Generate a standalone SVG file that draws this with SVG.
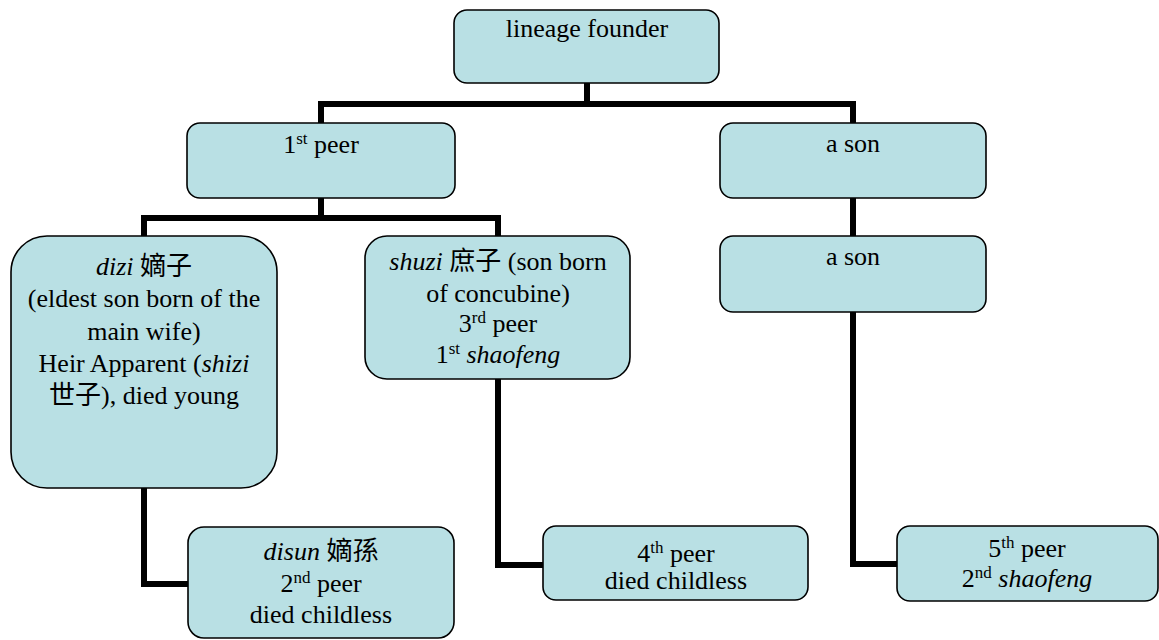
<svg xmlns="http://www.w3.org/2000/svg" width="1159" height="640" viewBox="0 0 1159 640">
  <style>
    .box { fill: #B9E0E4; stroke: #000; stroke-width: 1.6; }
    .lbl { font-size: 26px; fill: #000; text-anchor: middle; }
    .it { font-style: italic; }
    .sup { font-size: 17px; }
    .conn { fill: none; stroke: #000; stroke-width: 6; stroke-linejoin: miter; stroke-linecap: butt; }
  </style>

  <!-- connectors -->
  <g id="connectors">
    <path class="conn" d="M587 83 V104 M321 123 V104 H853 V123"/>
    <path class="conn" d="M321 198 V218 M144 236 V218 H498 V236"/>
    <path class="conn" d="M853 198 V236"/>
    <path class="conn" d="M853 312 V564 H897"/>
    <path class="conn" d="M144 488 V584 H188"/>
    <path class="conn" d="M498 379 V565 H543"/>
  </g>

  <g font-family="'Liberation Serif', 'DejaVu Serif', 'Noto Sans CJK SC', serif">
  <g id="founder">
    <rect class="box" x="454" y="10" width="265" height="73" rx="13"/>
    <text class="lbl" x="587" y="37">lineage founder</text>
  </g>

  <g id="peer1">
    <rect class="box" x="187" y="123" width="268" height="75" rx="13"/>
    <text class="lbl" x="321" y="153">1<tspan class="sup" baseline-shift="9">st</tspan> peer</text>
  </g>

  <g id="son1">
    <rect class="box" x="720" y="123" width="266" height="75" rx="13"/>
    <text class="lbl" x="853" y="152">a son</text>
  </g>

  <g id="son2">
    <rect class="box" x="720" y="236" width="266" height="76" rx="13"/>
    <text class="lbl" x="853" y="265">a son</text>
  </g>

  <g id="dizi">
    <rect class="box" x="11" y="236" width="266" height="252" rx="36"/>
    <text class="lbl" x="144" y="275"><tspan class="it">dizi</tspan> 嫡子</text>
    <text class="lbl" x="144" y="307">(eldest son born of the</text>
    <text class="lbl" x="144" y="340">main wife)</text>
    <text class="lbl" x="144" y="372">Heir Apparent (<tspan class="it">shizi</tspan></text>
    <text class="lbl" x="144" y="404">世子), died young</text>
  </g>

  <g id="shuzi">
    <rect class="box" x="365" y="236" width="265" height="143" rx="22"/>
    <text class="lbl" x="498" y="270"><tspan class="it">shuzi</tspan> 庶子 (son born</text>
    <text class="lbl" x="498" y="302">of concubine)</text>
    <text class="lbl" x="498" y="332">3<tspan class="sup" baseline-shift="9">rd</tspan> peer</text>
    <text class="lbl" x="498" y="363">1<tspan class="sup" baseline-shift="9">st</tspan> <tspan class="it">shaofeng</tspan></text>
  </g>

  <g id="disun">
    <rect class="box" x="188" y="527" width="266" height="111" rx="16"/>
    <text class="lbl" x="321" y="560"><tspan class="it">disun</tspan> 嫡孫</text>
    <text class="lbl" x="321" y="592">2<tspan class="sup" baseline-shift="9">nd</tspan> peer</text>
    <text class="lbl" x="321" y="623">died childless</text>
  </g>

  <g id="peer4">
    <rect class="box" x="543" y="526" width="265" height="74" rx="13"/>
    <text class="lbl" x="676" y="562">4<tspan class="sup" baseline-shift="9">th</tspan> peer</text>
    <text class="lbl" x="676" y="589">died childless</text>
  </g>

  <g id="peer5">
    <rect class="box" x="897" y="526" width="261" height="75" rx="13"/>
    <text class="lbl" x="1027" y="557">5<tspan class="sup" baseline-shift="9">th</tspan> peer</text>
    <text class="lbl" x="1027" y="587">2<tspan class="sup" baseline-shift="9">nd</tspan> <tspan class="it">shaofeng</tspan></text>
  </g>
  </g>
</svg>
